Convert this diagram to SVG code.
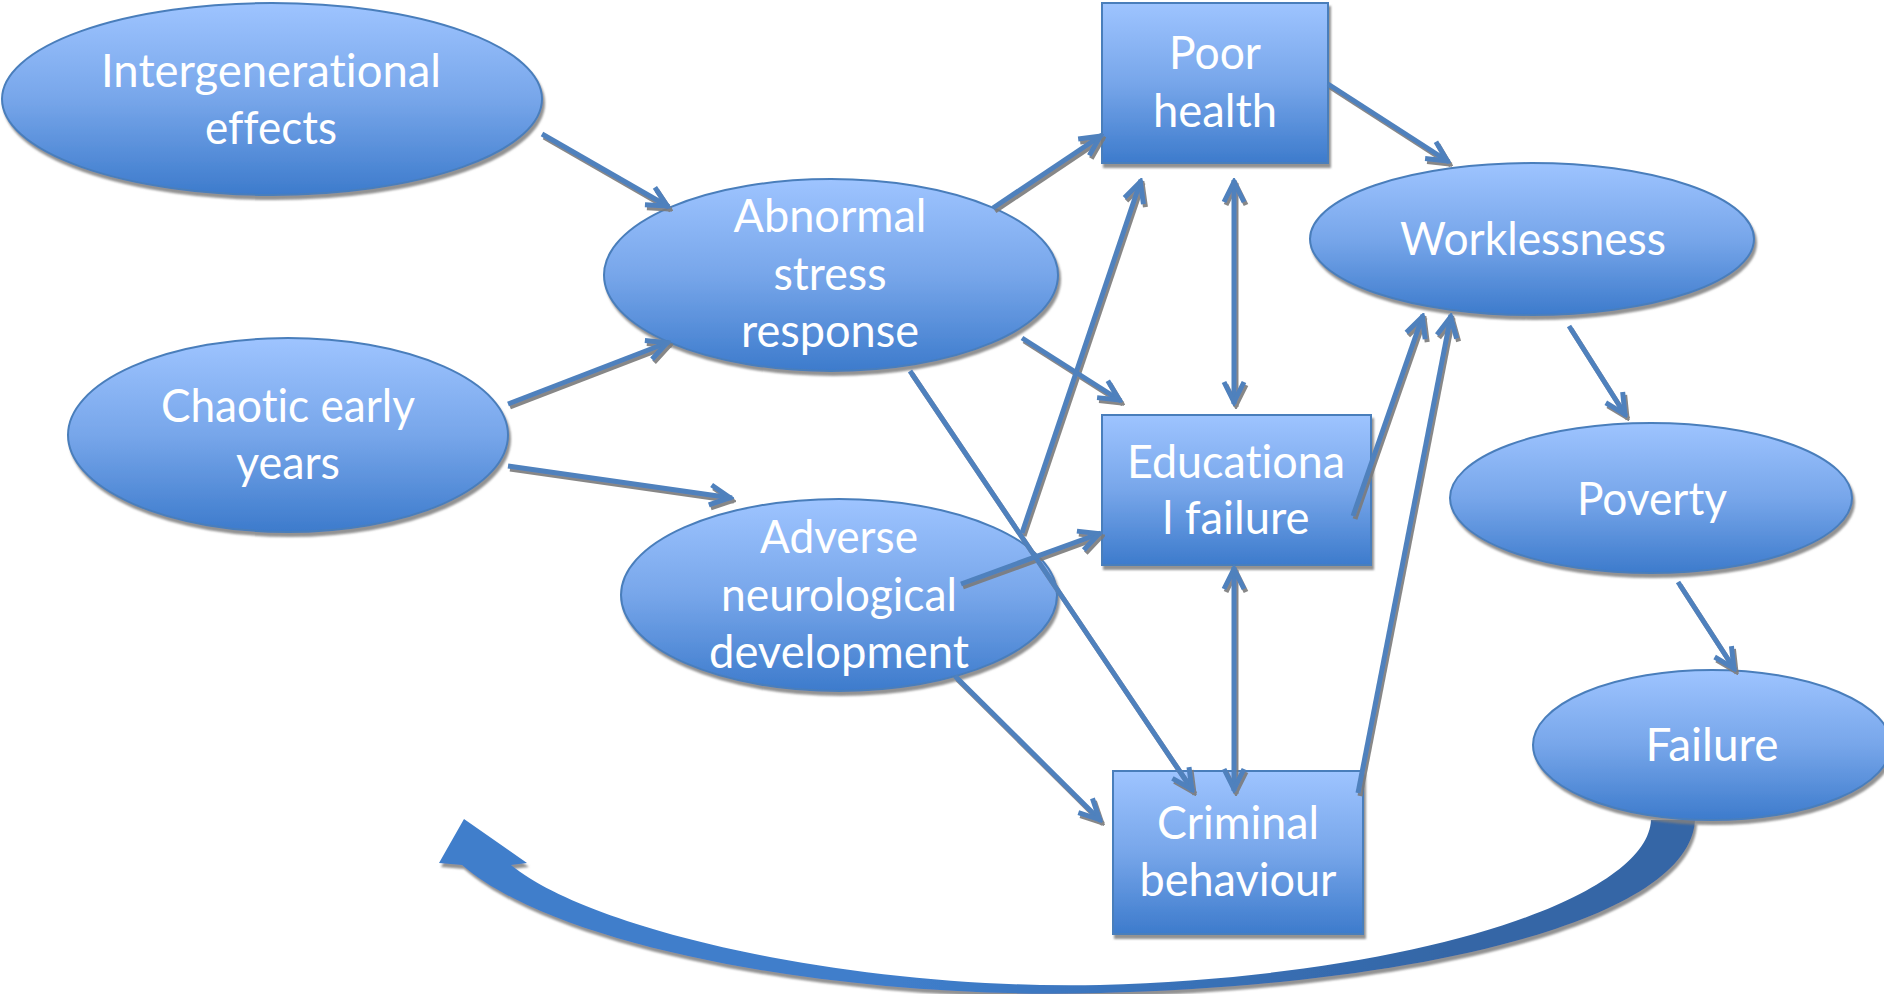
<svg xmlns="http://www.w3.org/2000/svg" width="1884" height="994" viewBox="0 0 1884 994">
  <defs>
    <linearGradient id="nodeFill" x1="0" y1="0" x2="0" y2="1">
      <stop offset="0" stop-color="#9ec4ff"/>
      <stop offset="0.5" stop-color="#77a6ea"/>
      <stop offset="1" stop-color="#3d7bcc"/>
    </linearGradient>
    <linearGradient id="loopFill" gradientUnits="userSpaceOnUse" x1="900" y1="0" x2="1450" y2="0">
      <stop offset="0" stop-color="#3f7ecb"/>
      <stop offset="1" stop-color="#3466a6"/>
    </linearGradient>
    <filter id="shadow" x="-10%" y="-10%" width="130%" height="130%">
      <feDropShadow dx="2" dy="4" stdDeviation="0.8" flood-color="#7f7f7f" flood-opacity="0.85"/>
    </filter>
    <filter id="lineShadow" x="-10%" y="-10%" width="130%" height="130%">
      <feDropShadow dx="2" dy="3" stdDeviation="0.5" flood-color="#7a7a7a" flood-opacity="0.9"/>
    </filter>
    <marker id="ah" viewBox="-24 -13 28 26" refX="2" refY="0" markerWidth="28" markerHeight="26" markerUnits="userSpaceOnUse" orient="auto-start-reverse">
      <path d="M-20,-10 L0,0 L-20,10" fill="none" stroke="#4f81bd" stroke-width="5"/>
    </marker>
  </defs>
  <style>
    .node { fill: url(#nodeFill); stroke: #4a7ebb; stroke-width: 2; filter: url(#shadow); }
    .lbl { font-family: Lato, "Open Sans", "Liberation Sans", sans-serif; font-size: 46px; fill: #ffffff; text-anchor: middle; font-variant-ligatures: none; font-feature-settings: "liga" 0, "clig" 0, "dlig" 0; }
    .conn line { stroke: #4f81bd; stroke-width: 5; marker-end: url(#ah); }
    .conn line.both { marker-start: url(#ah); }
  </style>

  <rect width="1884" height="994" fill="#ffffff"/>

  <!-- feedback loop from Failure back to the start -->
  <g id="loop-arrow" filter="url(#shadow)">
    <path fill="url(#loopFill)" d="M1695,820 C1690,920 1420,985 1100,993 C850,1000 560,950 462,865 L439,863 L464,819 L527,863 L511,865 C590,930 850,990 1100,985 C1430,975 1648,895 1651,820 Z"/>
  </g>

  <g id="intergenerational">
    <ellipse class="node" cx="272" cy="99" rx="270" ry="96"/>
    <text class="lbl" x="271" y="87" textLength="340" lengthAdjust="spacingAndGlyphs">Intergenerational</text>
    <text class="lbl" x="271" y="144" textLength="132" lengthAdjust="spacingAndGlyphs">effects</text>
  </g>

  <g id="chaotic">
    <ellipse class="node" cx="288" cy="435" rx="220" ry="97"/>
    <text class="lbl" x="288" y="422" textLength="254" lengthAdjust="spacingAndGlyphs">Chaotic early</text>
    <text class="lbl" x="288" y="479" textLength="104" lengthAdjust="spacingAndGlyphs">years</text>
  </g>

  <g id="abnormal">
    <ellipse class="node" cx="831" cy="275" rx="227" ry="96"/>
    <text class="lbl" x="830" y="232" textLength="193" lengthAdjust="spacingAndGlyphs">Abnormal</text>
    <text class="lbl" x="830" y="290" textLength="113" lengthAdjust="spacingAndGlyphs">stress</text>
    <text class="lbl" x="830" y="347" textLength="178" lengthAdjust="spacingAndGlyphs">response</text>
  </g>

  <g id="adverse">
    <ellipse class="node" cx="839" cy="595" rx="218" ry="96"/>
    <text class="lbl" x="839" y="553" textLength="158" lengthAdjust="spacingAndGlyphs">Adverse</text>
    <text class="lbl" x="839" y="611" textLength="236" lengthAdjust="spacingAndGlyphs">neurological</text>
    <text class="lbl" x="839" y="668" textLength="260" lengthAdjust="spacingAndGlyphs">development</text>
  </g>

  <g id="poor-health">
    <rect class="node" x="1102" y="3" width="226" height="160"/>
    <text class="lbl" x="1215" y="69" textLength="92" lengthAdjust="spacingAndGlyphs">Poor</text>
    <text class="lbl" x="1215" y="127" textLength="124" lengthAdjust="spacingAndGlyphs">health</text>
  </g>

  <g id="educational">
    <rect class="node" x="1102" y="415" width="269" height="150"/>
    <text class="lbl" x="1236" y="478" textLength="218" lengthAdjust="spacingAndGlyphs">Educationa</text>
    <text class="lbl" x="1236" y="534" textLength="147" lengthAdjust="spacingAndGlyphs">l failure</text>
  </g>

  <g id="criminal">
    <rect class="node" x="1113" y="771" width="250" height="163"/>
    <text class="lbl" x="1238" y="839" textLength="162" lengthAdjust="spacingAndGlyphs">Criminal</text>
    <text class="lbl" x="1238" y="896" textLength="197" lengthAdjust="spacingAndGlyphs">behaviour</text>
  </g>

  <g id="worklessness">
    <ellipse class="node" cx="1532" cy="239" rx="222" ry="76"/>
    <text class="lbl" x="1533" y="255" textLength="266" lengthAdjust="spacingAndGlyphs">Worklessness</text>
  </g>

  <g id="poverty">
    <ellipse class="node" cx="1651" cy="498" rx="201" ry="75"/>
    <text class="lbl" x="1652" y="515" textLength="150" lengthAdjust="spacingAndGlyphs">Poverty</text>
  </g>

  <g id="failure">
    <ellipse class="node" cx="1712" cy="745" rx="179" ry="75"/>
    <text class="lbl" x="1712" y="761" textLength="133" lengthAdjust="spacingAndGlyphs">Failure</text>
  </g>

  <g id="connectors" class="conn" filter="url(#lineShadow)">
    <line x1="542" y1="134" x2="669" y2="207"/>
    <line x1="508" y1="404" x2="669" y2="342"/>
    <line x1="508" y1="466" x2="732" y2="498"/>
    <line x1="993" y1="208" x2="1102" y2="135"/>
    <line x1="1022" y1="338" x2="1121" y2="401"/>
    <line x1="910" y1="371" x2="1193" y2="791"/>
    <line x1="1022" y1="533" x2="1141" y2="180"/>
    <line x1="961" y1="584" x2="1101" y2="533"/>
    <line x1="955" y1="676" x2="1101" y2="821"/>
    <line class="both" x1="1234" y1="180" x2="1234" y2="404"/>
    <line class="both" x1="1234" y1="567" x2="1234" y2="791"/>
    <line x1="1353" y1="516" x2="1423" y2="315"/>
    <line x1="1358" y1="793" x2="1451" y2="315"/>
    <line x1="1328" y1="84" x2="1449" y2="162"/>
    <line x1="1569" y1="326" x2="1626" y2="416"/>
    <line x1="1678" y1="582" x2="1735" y2="670"/>
  </g>
</svg>
